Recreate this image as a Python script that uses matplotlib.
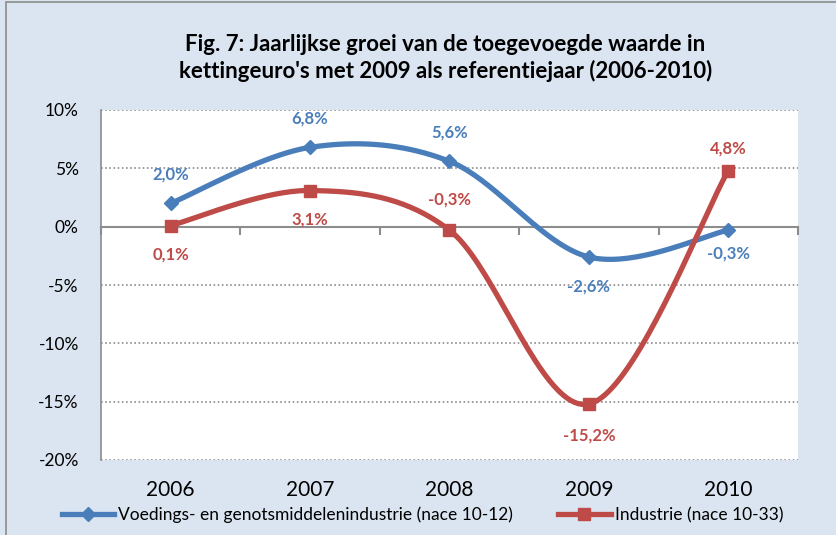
'''Jaarlijkse groei toegevoegde waarde - lijngrafiek'''
import numpy as np
import matplotlib.pyplot as plt
from matplotlib.lines import Line2D
from matplotlib.patches import Rectangle

# Data
years = ['2006', '2007', '2008', '2009', '2010']
voeding = [2.0, 6.8, 5.6, -2.6, -0.3]
industrie = [0.1, 3.1, -0.3, -15.2, 4.8]
labelVoeding = 'Voedings- en genotsmiddelenindustrie (nace 10-12)'
labelIndustrie = 'Industrie (nace 10-33)'
title = ("Fig. 7: Jaarlijkse groei van de toegevoegde waarde in\n"
         "kettingeuro's met 2009 als referentiejaar (2006-2010)")

# Label offsets in points: positive above the point, negative below.
posVoeding = [21, 21, 21, -21, -17]
posIndustrie = [-21, -21, 22, -23, 16]

blue = '#4a7ebb'
red = '#be4b48'
bg = '#dbe5f1'

plt.rcParams['font.family'] = ['Lato', 'DejaVu Sans']


def smooth(y, n=40):
    # Bezier smoothing through the points (like Excel's smoothed line).
    x = np.arange(len(y), dtype=float)
    y = np.asarray(y, dtype=float)
    xs, ys = [], []
    for i in range(len(y) - 1):
        p0 = i - 1 if i > 0 else i
        p3 = i + 2 if i + 2 < len(y) else i + 1
        c1x = x[i] + (x[i+1] - x[p0]) / 6
        c1y = y[i] + (y[i+1] - y[p0]) / 6
        c2x = x[i+1] - (x[p3] - x[i]) / 6
        c2y = y[i+1] - (y[p3] - y[i]) / 6
        t = np.linspace(0, 1, n)
        bx = ((1-t)**3*x[i] + 3*(1-t)**2*t*c1x + 3*(1-t)*t**2*c2x
              + t**3*x[i+1])
        by = ((1-t)**3*y[i] + 3*(1-t)**2*t*c1y + 3*(1-t)*t**2*c2y
              + t**3*y[i+1])
        xs.extend(bx)
        ys.extend(by)
    return np.array(xs), np.array(ys)


fig = plt.figure(figsize=(8.37, 5.35), dpi=100, facecolor=bg)
fig.patches.append(Rectangle((6/837, -0.1), 2, 1.1 - 2/535,
                             transform=fig.transFigure, fill=False,
                             edgecolor='#8c8c8c', linewidth=1.2))
ax = fig.add_axes([101/837, 1 - 460/535, 697/837, 350/535])
ax.set_facecolor('white')

x = np.arange(len(years))
for vals, col, mk, ms in [(voeding, blue, 'D', 7.5), (industrie, red, 's', 9)]:
    sx, sy = smooth(vals)
    ax.plot(sx, sy, color=col, linewidth=3.8, solid_capstyle='round',
            zorder=3)
    ax.plot(x, vals, linestyle='none', marker=mk, markersize=ms,
            color=col, zorder=4)

for vals, pos, col in [(voeding, posVoeding, blue),
                       (industrie, posIndustrie, red)]:
    for i, v in enumerate(vals):
        txt = ('%.1f%%' % v).replace('.', ',')
        ax.annotate(txt, (i, v), xytext=(0, pos[i]),
                    textcoords='offset points', ha='center', va='center',
                    color=col, fontsize=12, fontweight='bold', zorder=5)

ax.set_xlim(-0.5, len(years) - 0.5)
ax.set_ylim(-20, 10)
ax.set_yticks(np.arange(-20, 11, 5))
ax.set_yticklabels(['%d%%' % v for v in np.arange(-20, 11, 5)],
                   fontsize=12.5)
ax.tick_params(axis='y', length=0, pad=16)
for v in np.arange(-20, 11, 5):
    if v != 0:
        ax.axhline(v, color='#8c8c8c', linestyle=(0, (1, 1.5)),
                   linewidth=1.2, zorder=1)

ax.spines['top'].set_visible(False)
ax.spines['right'].set_visible(False)
ax.spines['left'].set_color('#8c8c8c')
ax.spines['left'].set_linewidth(1.2)
ax.spines['bottom'].set_position(('data', 0))
ax.spines['bottom'].set_color('#8c8c8c')
ax.spines['bottom'].set_linewidth(1.5)
ax.set_xticks(np.arange(-0.5, len(years), 1.0))
ax.set_xticklabels([])
ax.tick_params(axis='x', length=6, width=1.5, color='#8c8c8c',
               direction='out')

for i, yr in enumerate(years):
    ax.text(i, -0.085, yr, transform=ax.get_xaxis_transform(),
            ha='center', va='center', fontsize=15)

fig.text(0.532, 1 - 58/535, title, ha='center', va='center',
         fontsize=16, fontweight='bold', linespacing=1.3)

handles = [Line2D([], [], color=blue, linewidth=3.8, marker='D',
                  markersize=7.5),
           Line2D([], [], color=red, linewidth=3.8, marker='s',
                  markersize=9)]
fig.legend(handles, [labelVoeding, labelIndustrie], loc='center left',
           bbox_to_anchor=(62/837, 1 - 515/535), ncol=2, frameon=False,
           fontsize=12.5, handlelength=3.0, handletextpad=0.25,
           columnspacing=2.6, borderpad=0, borderaxespad=0)

fig.savefig('out.png', dpi=100, facecolor=bg)
